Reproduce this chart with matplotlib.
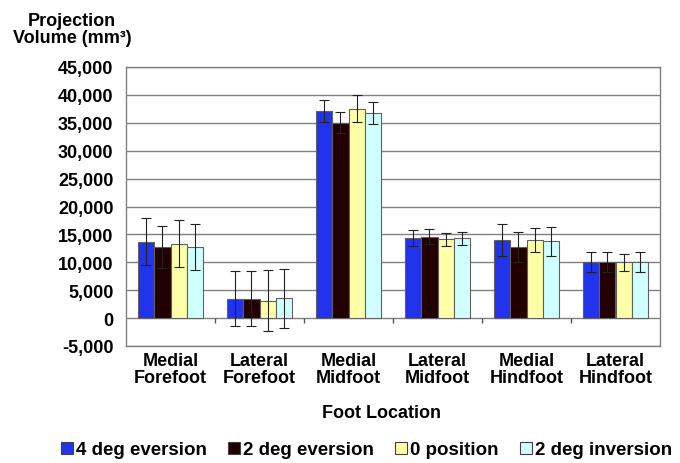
import matplotlib
matplotlib.use("Agg")
import matplotlib.pyplot as plt
from matplotlib.patches import Patch
import numpy as np

categories = ["Medial\nForefoot", "Lateral\nForefoot", "Medial\nMidfoot",
              "Lateral\nMidfoot", "Medial\nHindfoot", "Lateral\nHindfoot"]
series_names = ["4 deg eversion", "2 deg eversion", "0 position", "2 deg inversion"]
ev4 = [13700, 3500, 37100, 14300, 14000, 10000]
ev2 = [12750, 3500, 35000, 14600, 12800, 10000]
pos0 = [13300, 3150, 37500, 14100, 14000, 10000]
inv2 = [12800, 3550, 36700, 14300, 13750, 10000]
ev4_err = [4200, 5000, 2000, 1400, 2900, 1800]
ev2_err = [3700, 4900, 1900, 1400, 2700, 1800]
pos0_err = [4200, 5400, 2400, 1100, 2100, 1500]
inv2_err = [4100, 5300, 2000, 1200, 2600, 1800]
colors = ["#2233EE", "#220000", "#FFFFA8", "#D0FFFF"]
yticks = [-5000, 0, 5000, 10000, 15000, 20000, 25000, 30000, 35000, 40000, 45000]

plt.rcParams['font.family'] = ['Liberation Sans', 'DejaVu Sans']
fig = plt.figure(figsize=(6.8, 4.64), dpi=100)
ax = fig.add_axes([126/680, 1-347/464, 534/680, 279/464])

x = np.arange(len(categories))
w = 0.185
vals = [ev4, ev2, pos0, inv2]
errs = [ev4_err, ev2_err, pos0_err, inv2_err]
for i, (v, e, c, n) in enumerate(zip(vals, errs, colors, series_names)):
    ax.bar(x + (i - 1.5) * w, v, w, color=c, edgecolor="#606060", linewidth=0.8,
           yerr=e, error_kw=dict(ecolor="#222222", elinewidth=0.8, capsize=3.3, capthick=0.8),
           label=n, zorder=3)

ax.set_xlim(-0.5, len(categories) - 0.5)
ax.set_ylim(-5000, 45000)
ax.set_yticks(yticks)
ax.set_yticklabels([f"{t:,}" for t in yticks], fontsize=13, fontweight="bold")
ax.yaxis.grid(True, color="#808080", linewidth=1.0, zorder=0)
ax.set_axisbelow(True)
ax.tick_params(axis="y", length=0, pad=9)
ax.set_xticks(x)
ax.set_xticklabels(categories, fontsize=13, fontweight="bold", linespacing=1.0)
ax.tick_params(axis="x", length=0, pad=4)
for s in ax.spines.values():
    s.set_color("#808080")
    s.set_linewidth(1.0)
# category boundary ticks on the zero line
ax.vlines(x[:-1] + 0.5, -900, 0, color="#555555", linewidth=1.0, zorder=2)

fig.text(72/680, 1-30/464, "Projection\nVolume (mm³)", ha="center", va="center",
         fontsize=13, fontweight="bold", linespacing=1.05)
fig.text(382/680, 1-414/464, "Foot Location", ha="center", va="center",
         fontsize=13, fontweight="bold")

hs = [Patch(facecolor=c, edgecolor="#404040", linewidth=0.8) for c in colors]
fig.legend(hs, series_names, loc="center", bbox_to_anchor=(366.5/680, 1-451/464),
           ncol=4, frameon=False, prop=dict(weight="bold", size=13.5),
           handlelength=0.64, handleheight=0.64, handletextpad=0.15, columnspacing=1.15,
           borderpad=0, borderaxespad=0)

fig.savefig("out.png", dpi=100)
